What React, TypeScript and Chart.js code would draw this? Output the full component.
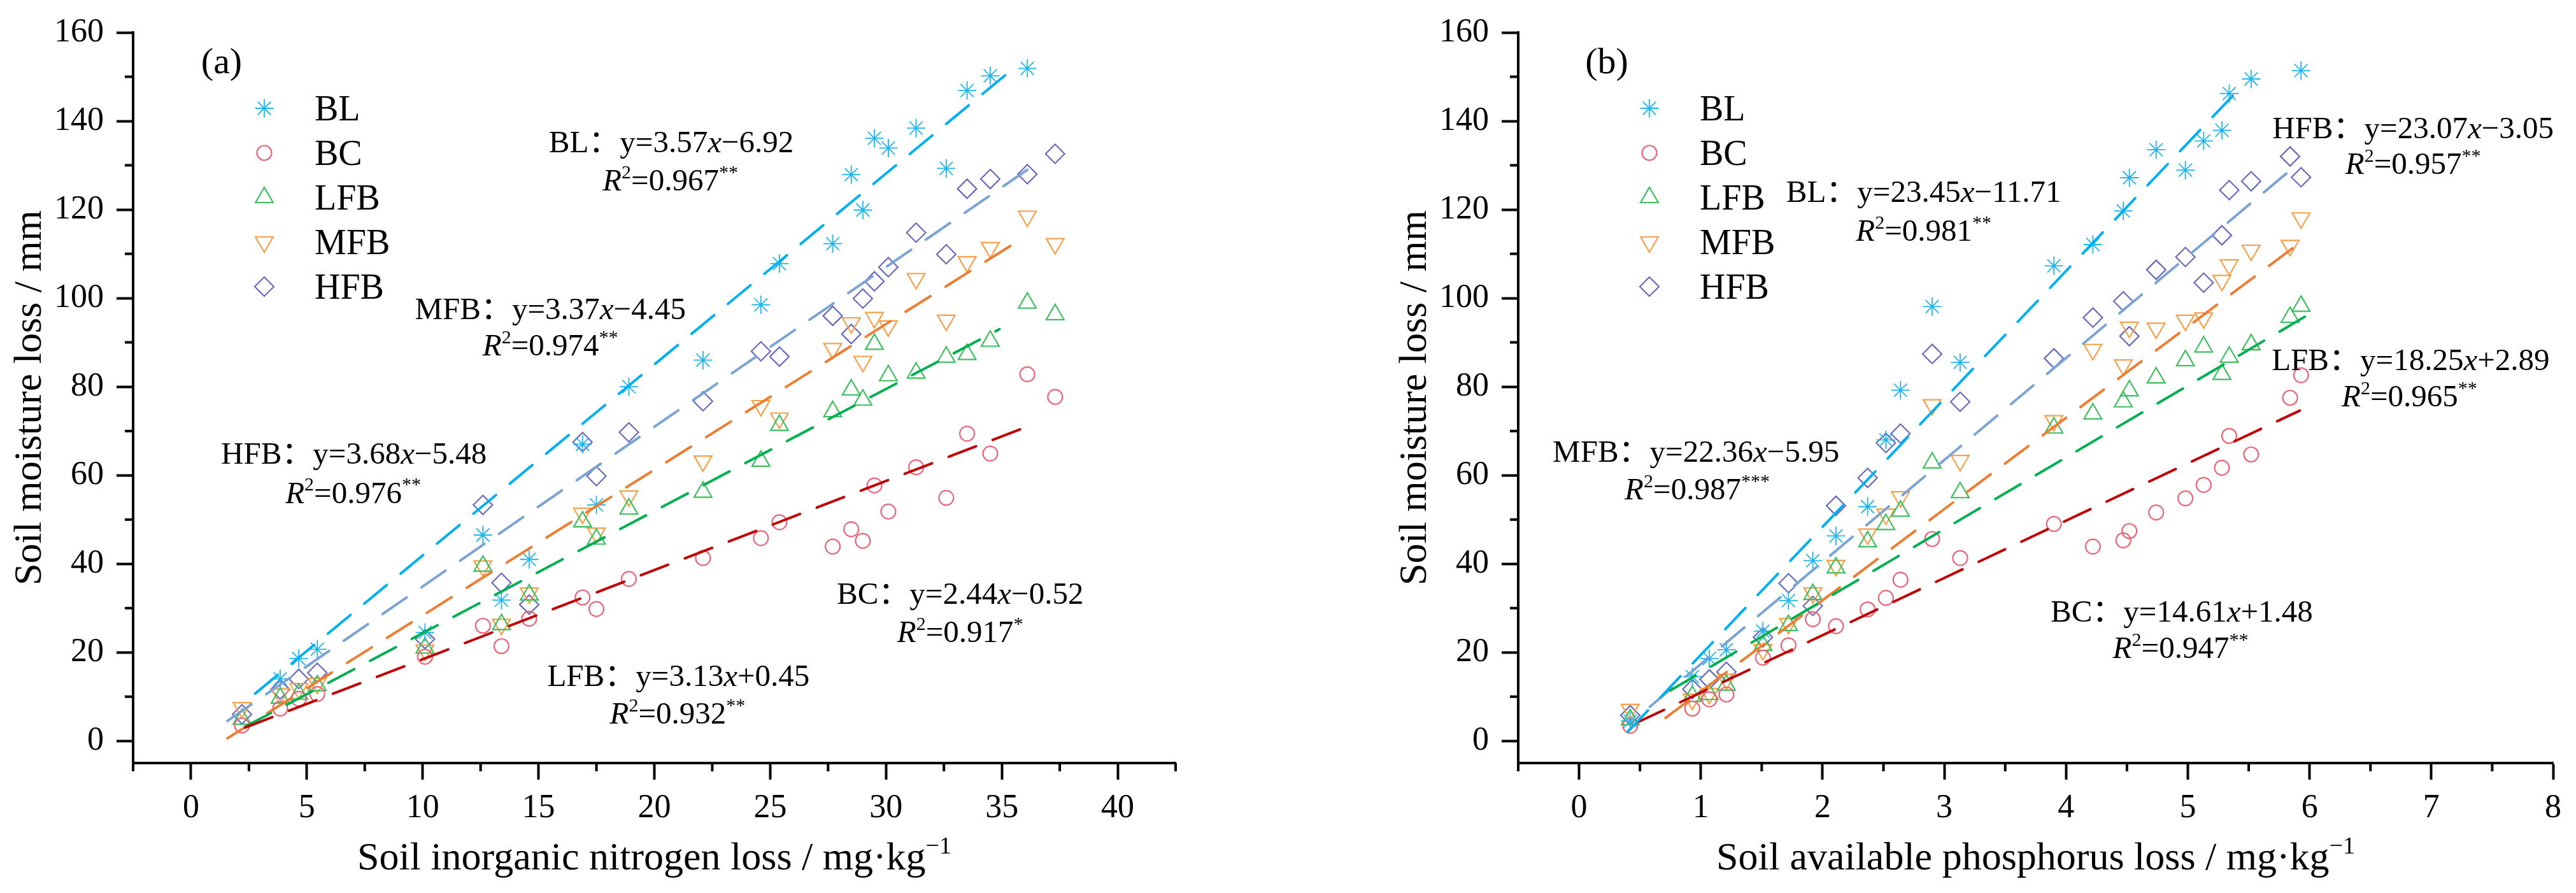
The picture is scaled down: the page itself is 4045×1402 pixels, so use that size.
import { useEffect, useRef } from "react"
import { Chart, registerables } from "chart.js"
import { drawPoint } from "chart.js/helpers"

Chart.register(...registerables)

const FONT = "'Liberation Serif', 'Times New Roman', 'Noto Sans CJK SC', serif"

// series order: BL, BC, LFB, MFB, HFB
const seriesNames = ["BL", "BC", "LFB", "MFB", "HFB"]
const markerColors = ["#22B5EA", "#E8687A", "#3EBE5E", "#F5A04A", "#6A6ABD"]
const lineColors = ["#00B0F0", "#C00000", "#00B050", "#ED7D31", "#7BA3D3"]
const pointStyles = ["star", "circle", "triangle", "triangle", "rectRot"]
const pointRotations = [0, 0, 0, 180, 0]
const pointRadii = [14.5, 11.5, 16, 16, 15]
const pointWidths = [1.8, 2.2, 2.2, 2.2, 2.2]

// shared y axis
const yTicks = [0, 20, 40, 60, 80, 100, 120, 140, 160]
const yMinor = [10, 30, 50, 70, 90, 110, 130, 150]

// ---- panel (a): soil inorganic nitrogen loss ----
const xTicksA = [0, 5, 10, 15, 20, 25, 30, 35, 40]
const xMinorA = [-2.5, 2.5, 7.5, 12.5, 17.5, 22.5, 27.5, 32.5, 37.5, 42.5]
const xA = [2.2, 3.85, 4.65, 5.45, 10.1, 12.6, 13.4, 14.6, 16.9, 17.5, 18.9, 22.1, 24.6, 25.4, 27.7, 28.5, 29.0, 29.5, 30.1, 31.3, 32.6, 33.5, 34.5, 36.1, 37.3]
const yA_BL = [null, 14, 18.6, 20.7, 24.5, 46.5, 31.8, 41, 67, 53.3, 80, 86, 98.5, 107.8, 112.3, 127.9, 119.9, 136.1, 133.9, 138.4, 129.3, 146.9, 150.2, 151.9, null]
const yA_BC = [3.5, 7.3, 9.5, 10.6, 19, 26, 21.4, 27.6, 32.4, 29.8, 36.6, 41.3, 45.8, 49.4, 43.9, 47.8, 45.2, 57.7, 51.8, 61.8, 54.9, 69.4, 64.9, 82.8, 77.7]
const yA_LFB = [4.9, 9.7, 10.6, 12.5, 21, 39.5, 26.3, 33, 49.5, 45.6, 52.4, 56.2, 63.2, 71.3, 74.4, 79.3, 77, 89.6, 82.5, 83.1, 86.7, 87.3, 90.3, 98.9, 96.3]
const yA_MFB = [7.5, 10.6, 11.8, 13, 20.5, 39.5, 26.3, 33.4, 51.4, 46.9, 55.3, 63.2, 75.7, 72.9, 88.6, 94.4, 85.7, 95.6, 93.7, 104.4, 95, 108.2, 111.4, 118.5, 112.3]
const yA_HFB = [6, 11.6, 14, 15.4, 23, 53.3, 35.7, 30.8, 67.5, 59.8, 69.7, 76.7, 88, 86.8, 96, 91.9, 99.9, 103.8, 107, 114.8, 109.9, 124.7, 126.9, 128, 132.6]
// fitted lines, start/end
const fitAx_BL = [2.77, 35.3]
const fitAy_BL = [10.7, 151]
const fitAx_BC = [2.33, 36.3]
const fitAy_BC = [3.0, 71.4]
const fitAx_LFB = [2.33, 34.9]
const fitAy_LFB = [3.2, 93]
const fitAx_MFB = [1.57, 35.7]
const fitAy_MFB = [0.6, 112.9]
const fitAx_HFB = [1.57, 36.1]
const fitAy_HFB = [4.5, 129]

// ---- panel (b): soil available phosphorus loss ----
const xTicksB = [0, 1, 2, 3, 4, 5, 6, 7, 8]
const xMinorB = [-0.5, 0.5, 1.5, 2.5, 3.5, 4.5, 5.5, 6.5, 7.5]
const xB = [0.42, 0.93, 1.07, 1.21, 1.51, 1.72, 1.92, 2.11, 2.37, 2.52, 2.64, 2.9, 3.13, 3.9, 4.22, 4.47, 4.52, 4.74, 4.98, 5.13, 5.28, 5.34, 5.52, 5.84, 5.93]
const yB_BL = [4.5, 14.5, 18.6, 20.6, 24.8, 31.7, 40.7, 46.3, 52.9, 68, 79.2, 98.1, 85.5, 107.3, 112.1, 119.7, 127.2, 133.5, 128.9, 135.5, 137.9, 146.2, 149.5, null, 151.4]
const yB_BC = [3.4, 7.3, 9.4, 10.5, 18.8, 21.6, 27.5, 25.9, 29.7, 32.3, 36.4, 45.6, 41.3, 49.0, 43.9, 45.3, 47.4, 51.6, 54.8, 57.8, 61.7, 68.9, 64.7, 77.5, 82.6]
const yB_LFB = [4.8, 10.1, 10.5, 12.6, 21.6, 26.1, 33.1, 39.1, 45, 48.9, 51.9, 62.8, 56.1, 70.7, 73.9, 76.6, 79.1, 82.0, 85.9, 89.0, 82.8, 86.7, 89.5, 95.7, 98.2]
const yB_MFB = [7.1, 9.4, 10.7, 13.9, 20.6, 26.5, 33.4, 39.6, 46.7, 51.2, 55.1, 75.9, 63.3, 72.3, 88.4, 84.9, 93.4, 93.2, 95.0, 95.5, 104.0, 107.5, 110.8, 111.9, 118.1]
const yB_HFB = [5.8, 11.7, 13.9, 15.6, 23.4, 35.6, 30.5, 53.1, 59.4, 67.3, 69.4, 87.4, 76.6, 86.4, 95.6, 99.3, 91.4, 106.4, 109.3, 103.5, 114.2, 124.4, 126.4, 132.0, 127.3]
const fitBx_BL = [0.4, 5.4]
const fitBy_BL = [2.1, 146.6]
const fitBx_BC = [0.48, 5.92]
const fitBy_BC = [4.2, 74.6]
const fitBx_LFB = [0.75, 6.01]
const fitBy_LFB = [11.4, 96.6]
const fitBx_MFB = [0.71, 5.9]
const fitBy_MFB = [5.2, 112.1]
const fitBx_HFB = [0.58, 5.85]
const fitBy_HFB = [7.7, 129.1]

type Seg = [string, string?]
type Note = { x: number; y: number; segs: Seg[] }

const eq = (name: string, k: string, b: string): Seg[] => [[`${name}：y=${k}`], ["x", "i"], [b]]
const r2 = (v: string, star: string): Seg[] => [["R", "i"], ["2", "s"], [`=${v}`], [star, "s"]]

const notesA: Note[] = [
  { x: 20.73, y: 135.2, segs: eq("BL", "3.57", "−6.92") },
  { x: 20.69, y: 126.6, segs: r2("0.967", "**") },
  { x: 15.51, y: 97.6, segs: eq("MFB", "3.37", "−4.45") },
  { x: 15.51, y: 89.3, segs: r2("0.974", "**") },
  { x: 7.03, y: 64.9, segs: eq("HFB", "3.68", "−5.48") },
  { x: 7.0, y: 56.0, segs: r2("0.976", "**") },
  { x: 21.04, y: 14.7, segs: eq("LFB", "3.13", "+0.45") },
  { x: 21.0, y: 6.2, segs: r2("0.932", "**") },
  { x: 33.2, y: 33.3, segs: eq("BC", "2.44", "−0.52") },
  { x: 33.2, y: 24.6, segs: r2("0.917", "*") },
]

const notesB: Note[] = [
  { x: 2.83, y: 124.0, segs: eq("BL", "23.45", "−11.71") },
  { x: 2.83, y: 115.2, segs: r2("0.981", "**") },
  { x: 0.96, y: 65.3, segs: eq("MFB", "22.36", "−5.95") },
  { x: 0.97, y: 56.8, segs: r2("0.987", "***") },
  { x: 6.85, y: 138.4, segs: eq("HFB", "23.07", "−3.05") },
  { x: 6.85, y: 130.3, segs: r2("0.957", "**") },
  { x: 6.83, y: 86.1, segs: eq("LFB", "18.25", "+2.89") },
  { x: 6.82, y: 77.8, segs: r2("0.965", "**") },
  { x: 4.95, y: 29.2, segs: eq("BC", "14.61", "+1.48") },
  { x: 4.94, y: 21.0, segs: r2("0.947", "**") },
]

const yTitle: Seg[] = [["Soil moisture loss / mm"]]
const xTitleA: Seg[] = [["Soil inorganic nitrogen loss / mg·kg"], ["−1", "s"]]
const xTitleB: Seg[] = [["Soil available phosphorus loss / mg·kg"], ["−1", "s"]]

function drawRich(ctx: CanvasRenderingContext2D, segs: Seg[], x: number, base: number, size: number, center = true) {
  const fontOf = (st?: string) =>
    `${st === "i" ? "italic " : ""}${st === "s" ? Math.round(size * 0.62) : size}px ${FONT}`
  let w = 0
  for (const [t, st] of segs) {
    ctx.font = fontOf(st)
    w += ctx.measureText(t).width
  }
  let cx = center ? x - w / 2 : x
  ctx.textAlign = "left"
  ctx.textBaseline = "alphabetic"
  for (const [t, st] of segs) {
    ctx.font = fontOf(st)
    ctx.fillText(t, cx, st === "s" ? base - size * 0.4 : base)
    cx += ctx.measureText(t).width
  }
}

type PanelCfg = {
  tag: string
  xs: number[]
  ys: (number | null)[][]
  fitX: number[][]
  fitY: number[][]
  xMin: number
  xMax: number
  xTicks: number[]
  xMinor: number[]
  notes: Note[]
  xTitle: Seg[]
  yAxisW: number
  padRight: number
}

function decor(p: PanelCfg) {
  return {
    id: "decor",
    afterDraw(chart: Chart) {
      const { ctx, chartArea: a } = chart
      const sx = chart.scales.x
      const sy = chart.scales.y
      ctx.save()
      // minor ticks
      ctx.strokeStyle = "#000"
      ctx.lineWidth = 4
      ctx.beginPath()
      for (const v of p.xMinor) {
        const px = sx.getPixelForValue(v)
        ctx.moveTo(px, a.bottom)
        ctx.lineTo(px, a.bottom + 13)
      }
      for (const v of yMinor) {
        const py = sy.getPixelForValue(v)
        ctx.moveTo(a.left - 13, py)
        ctx.lineTo(a.left, py)
      }
      ctx.stroke()

      ctx.fillStyle = "#000"
      drawRich(ctx, [[p.tag]], a.left + 139, a.top + 64, 58)

      // legend
      chart.data.datasets.forEach((ds: any) => {
        if (!ds.isMarker) return
        const y = a.top + 119 + ds.legendIndex * 70
        ctx.strokeStyle = ds.pointBorderColor
        ctx.fillStyle = "rgba(0,0,0,0)"
        ctx.lineWidth = ds.pointBorderWidth
        drawPoint(ctx, { pointStyle: ds.pointStyle, rotation: ds.pointRotation, radius: ds.pointRadius, borderWidth: ds.pointBorderWidth } as any, a.left + 206, y)
        ctx.fillStyle = "#000"
        drawRich(ctx, [[ds.label]], a.left + 285, y + 19, 56, false)
      })

      // equations
      ctx.fillStyle = "#000"
      for (const n of p.notes) {
        drawRich(ctx, n.segs, sx.getPixelForValue(n.x), sy.getPixelForValue(n.y) + 16, 49)
      }

      // axis titles
      drawRich(ctx, p.xTitle, (a.left + a.right) / 2, a.bottom + 167, 62)
      ctx.translate(a.left - 145, (a.top + a.bottom) / 2)
      ctx.rotate(-Math.PI / 2)
      drawRich(ctx, yTitle, 0, 0, 62)
      ctx.restore()
    },
  }
}

function buildConfig(p: PanelCfg): any {
  const markers = seriesNames.map((name, i) => ({
    type: "scatter",
    label: name,
    isMarker: true,
    legendIndex: i,
    order: 2,
    data: p.xs.map((x, j) => ({ x, y: p.ys[i][j] })).filter((d) => d.y !== null),
    showLine: false,
    pointStyle: pointStyles[i],
    pointRotation: pointRotations[i],
    pointRadius: pointRadii[i],
    pointHoverRadius: pointRadii[i],
    pointBorderWidth: pointWidths[i],
    pointBorderColor: markerColors[i],
    pointBackgroundColor: "rgba(0,0,0,0)",
    borderColor: markerColors[i],
    backgroundColor: "rgba(0,0,0,0)",
  }))
  const fits = seriesNames.map((name, i) => ({
    type: "scatter",
    label: name + " fit",
    order: 1,
    data: p.fitX[i].map((x, j) => ({ x, y: p.fitY[i][j] })),
    showLine: true,
    borderColor: lineColors[i],
    borderWidth: 4,
    borderDash: [46, 28],
    borderCapStyle: "round",
    pointRadius: 0,
    pointHoverRadius: 0,
    fill: false,
  }))
  const zeroPad = (s: any) => {
    s.paddingTop = 0
    s.paddingBottom = 0
    s.paddingLeft = 0
    s.paddingRight = 0
  }
  const grid = {
    drawOnChartArea: false,
    drawTicks: true,
    tickLength: 26,
    tickWidth: 4,
    tickColor: "#000",
  }
  const tickFont = { family: FONT, size: 52 }
  return {
    type: "scatter",
    data: { datasets: [...markers, ...fits] },
    options: {
      animation: false,
      responsive: true,
      maintainAspectRatio: false,
      devicePixelRatio: 1,
      layout: { padding: { left: 0, top: 51, right: p.padRight, bottom: 0 } },
      plugins: { legend: { display: false }, tooltip: { enabled: false } },
      scales: {
        x: {
          type: "linear",
          min: p.xMin,
          max: p.xMax,
          afterBuildTicks: (s: any) => {
            s.ticks = p.xTicks.map((v) => ({ value: v }))
          },
          afterFit: (s: any) => {
            s.height = 204
            zeroPad(s)
          },
          grid,
          border: { display: true, width: 4, color: "#000" },
          ticks: { font: tickFont, color: "#000", padding: 14, autoSkip: false, maxRotation: 0, callback: (v: number) => String(v) },
        },
        y: {
          type: "linear",
          min: -5,
          max: 160,
          afterBuildTicks: (s: any) => {
            s.ticks = yTicks.map((v) => ({ value: v }))
          },
          afterFit: (s: any) => {
            s.width = p.yAxisW
            zeroPad(s)
          },
          grid,
          border: { display: true, width: 4, color: "#000" },
          ticks: { font: tickFont, color: "#000", padding: 20, autoSkip: false, callback: (v: number) => String(v) },
        },
      },
    },
    plugins: [decor(p)],
  }
}

const panelA: PanelCfg = {
  tag: "(a)",
  xs: xA,
  ys: [yA_BL, yA_BC, yA_LFB, yA_MFB, yA_HFB],
  fitX: [fitAx_BL, fitAx_BC, fitAx_LFB, fitAx_MFB, fitAx_HFB],
  fitY: [fitAy_BL, fitAy_BC, fitAy_LFB, fitAy_MFB, fitAy_HFB],
  xMin: -2.5,
  xMax: 42.5,
  xTicks: xTicksA,
  xMinor: xMinorA,
  notes: notesA,
  xTitle: xTitleA,
  yAxisW: 209,
  padRight: 2020 - 1846,
}

const panelB: PanelCfg = {
  tag: "(b)",
  xs: xB,
  ys: [yB_BL, yB_BC, yB_LFB, yB_MFB, yB_HFB],
  fitX: [fitBx_BL, fitBx_BC, fitBx_LFB, fitBx_MFB, fitBx_HFB],
  fitY: [fitBy_BL, fitBy_BC, fitBy_LFB, fitBy_MFB, fitBy_HFB],
  xMin: -0.5,
  xMax: 8,
  xTicks: xTicksB,
  xMinor: xMinorB,
  notes: notesB,
  xTitle: xTitleB,
  yAxisW: 2384 - 2020,
  padRight: 2025 - (4009 - 2020),
}

function Panel({ cfg, left, width }: { cfg: PanelCfg; left: number; width: number }) {
  const canvasRef = useRef<HTMLCanvasElement>(null)
  useEffect(() => {
    if (!canvasRef.current) return
    const chart = new Chart(canvasRef.current, buildConfig(cfg))
    return () => chart.destroy()
  }, [cfg])
  return (
    <div style={{ position: "absolute", left, top: 0, width, height: 1402 }}>
      <canvas ref={canvasRef} />
    </div>
  )
}

export default function App() {
  return (
    <div style={{ position: "absolute", left: 0, top: 0, width: 4045, height: 1402, background: "#fff" }}>
      <Panel cfg={panelA} left={0} width={2020} />
      <Panel cfg={panelB} left={2020} width={2025} />
    </div>
  )
}
